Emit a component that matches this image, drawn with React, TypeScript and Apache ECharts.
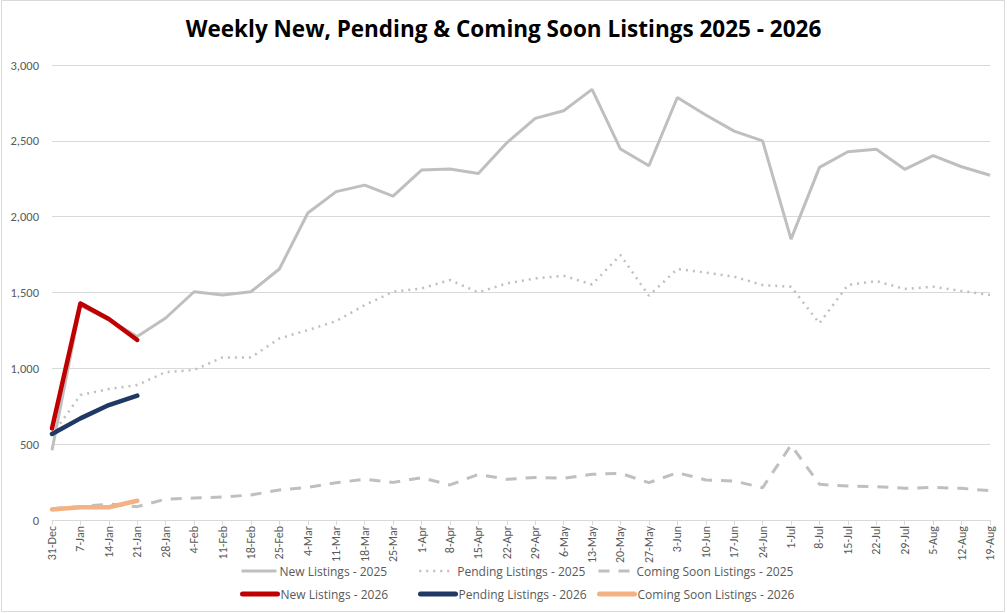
import React, { useEffect, useRef } from "react";
import * as echarts from "echarts";

const categories = [
  "31-Dec", "7-Jan", "14-Jan", "21-Jan", "28-Jan", "4-Feb", "11-Feb", "18-Feb", "25-Feb",
  "4-Mar", "11-Mar", "18-Mar", "25-Mar", "1-Apr", "8-Apr", "15-Apr", "22-Apr", "29-Apr",
  "6-May", "13-May", "20-May", "27-May", "3-Jun", "10-Jun", "17-Jun", "24-Jun", "1-Jul",
  "8-Jul", "15-Jul", "22-Jul", "29-Jul", "5-Aug", "12-Aug", "19-Aug",
];

const newListings2025 = [
  460, 1415, 1320, 1210, 1332, 1505, 1483, 1505, 1655, 2024, 2165, 2208, 2136, 2307, 2314,
  2285, 2487, 2648, 2698, 2839, 2446, 2336, 2786, 2670, 2564, 2500, 1852, 2325, 2428, 2444,
  2312, 2402, 2329, 2273,
];
const pending2025 = [
  560, 824, 864, 890, 975, 989, 1072, 1072, 1197, 1252, 1312, 1417, 1505, 1527, 1582, 1501,
  1560, 1593, 1610, 1553, 1747, 1479, 1655, 1631, 1604, 1549, 1538, 1297, 1549, 1575, 1523,
  1538, 1510, 1483,
];
const comingSoon2025 = [
  75, 88, 105, 88, 138, 145, 152, 165, 198, 215, 246, 268, 248, 279, 231, 301, 268, 281, 275,
  301, 308, 246, 312, 264, 257, 213, 494, 235, 224, 220, 209, 215, 209, 193,
];
const newListings2026 = [604, 1428, 1325, 1187];
const pending2026 = [567, 670, 758, 820];
const comingSoon2026 = [70, 84, 84, 127];

const yTicks = { min: 0, max: 3000, interval: 500 };

const FONT = "Carlito, 'Liberation Sans Narrow', Lato, sans-serif";
const WIDE_FONT = "'Open Sans', Lato, sans-serif";
const GRAY = "#BFBFBF";
const RED = "#C00000";
const NAVY = "#1F3864";
const ORANGE = "#F4B183";
const TEXT = "#595959";

export default function App() {
  const ref = useRef<HTMLDivElement>(null);
  useEffect(() => {
    document.body.style.margin = "0";
    const chart = echarts.init(ref.current!, null, { renderer: "svg" });
    const mkLegend = (name: string, left: number, top: number, ls: any) => ({
      data: [name],
      left,
      top,
      orient: "horizontal",
      itemWidth: 35,
      itemHeight: 6,
      lineStyle: ls,
      itemStyle: { opacity: 0 },
      textStyle: { fontFamily: WIDE_FONT, fontSize: 12, color: TEXT, padding: [0, 0, 0, -2] },
      selectedMode: false,
      padding: 0,
    });
    chart.setOption({
      animation: false,
      backgroundColor: "#ffffff",
      title: {
        text: "Weekly New, Pending & Coming Soon Listings 2025 - 2026",
        left: "center",
        top: 12,
        textStyle: { fontFamily: WIDE_FONT, fontSize: 22.5, fontWeight: "bold", color: "#000000" },
      },
      graphic: [
        {
          type: "rect",
          shape: { x: 1.5, y: 0.5, width: 1003, height: 611 },
          style: { fill: "none", stroke: "#D9D9D9", lineWidth: 1 },
          silent: true,
        },
      ],
      legend: [
        mkLegend("New Listings - 2025", 240, 565, { color: GRAY, width: 3, type: "solid" }),
        mkLegend("Pending Listings - 2025", 418, 565, { color: GRAY, width: 2.5, type: [2, 5] }),
        mkLegend("Coming Soon Listings - 2025", 597, 565, { color: GRAY, width: 3, type: [11, 9] }),
        mkLegend("New Listings - 2026", 240, 588, { color: RED, width: 5, type: "solid", cap: "round" }),
        mkLegend("Pending Listings - 2026", 418, 588, { color: NAVY, width: 5, type: "solid", cap: "round" }),
        mkLegend("Coming Soon Listings - 2026", 597, 588, { color: ORANGE, width: 5, type: "solid", cap: "round" }),
      ],
      grid: { left: 52, right: 17, top: 65, bottom: 93, containLabel: false },
      xAxis: {
        type: "category",
        data: categories,
        boundaryGap: false,
        axisLine: { lineStyle: { color: "#D9D9D9", width: 1 } },
        axisTick: { show: true, length: 5, lineStyle: { color: "#D9D9D9" }, alignWithLabel: true },
        axisLabel: {
          rotate: 90,
          interval: 0,
          margin: 6,
          fontFamily: FONT,
          fontSize: 12,
          color: TEXT,
        },
        splitLine: { show: false },
      },
      yAxis: {
        type: "value",
        min: yTicks.min,
        max: yTicks.max,
        interval: yTicks.interval,
        axisLine: { show: false },
        axisTick: { show: false },
        axisLabel: {
          margin: 13,
          fontFamily: FONT,
          fontSize: 12.5,
          color: TEXT,
          formatter: (v: number) => v.toLocaleString("en-US"),
        },
        splitLine: { lineStyle: { color: "#D9D9D9", width: 1 } },
      },
      series: [
        {
          name: "New Listings - 2025",
          type: "line",
          data: newListings2025,
          symbol: "none",
          lineStyle: { color: GRAY, width: 3, type: "solid" },
          itemStyle: { color: GRAY },
          z: 2,
        },
        {
          name: "Pending Listings - 2025",
          type: "line",
          data: pending2025,
          symbol: "none",
          lineStyle: { color: GRAY, width: 2.5, type: [2, 5] },
          itemStyle: { color: GRAY },
          z: 2,
        },
        {
          name: "Coming Soon Listings - 2025",
          type: "line",
          data: comingSoon2025,
          symbol: "none",
          lineStyle: { color: GRAY, width: 3, type: [11, 9] },
          itemStyle: { color: GRAY },
          z: 2,
        },
        {
          name: "New Listings - 2026",
          type: "line",
          data: newListings2026,
          symbol: "none",
          lineStyle: { color: RED, width: 4.5, cap: "round", join: "round" },
          itemStyle: { color: RED },
          z: 3,
        },
        {
          name: "Pending Listings - 2026",
          type: "line",
          data: pending2026,
          symbol: "none",
          lineStyle: { color: NAVY, width: 4.5, cap: "round", join: "round" },
          itemStyle: { color: NAVY },
          z: 3,
        },
        {
          name: "Coming Soon Listings - 2026",
          type: "line",
          data: comingSoon2026,
          symbol: "none",
          lineStyle: { color: ORANGE, width: 4.5, cap: "round", join: "round" },
          itemStyle: { color: ORANGE },
          z: 3,
        },
      ],
    });
    return () => chart.dispose();
  }, []);
  return (
    <div
      ref={ref}
      style={{ position: "fixed", left: 0, top: 0, width: 1007, height: 613 }}
    />
  );
}
